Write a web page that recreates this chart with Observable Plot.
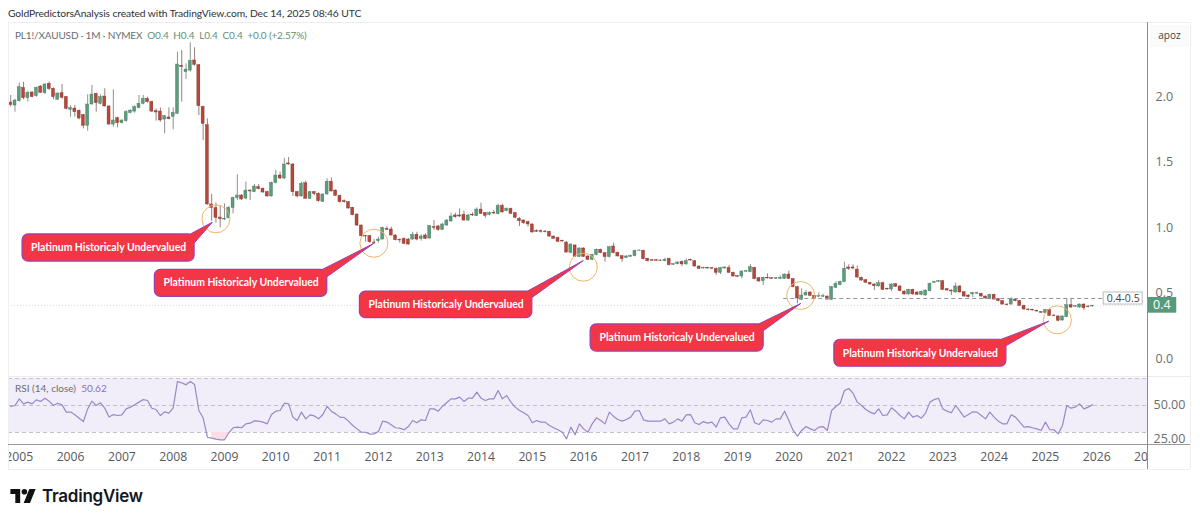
<!DOCTYPE html>
<html><head><meta charset="utf-8">
<script src="https://cdn.jsdelivr.net/npm/d3@7"></script>
<script src="https://cdn.jsdelivr.net/npm/@observablehq/plot@0.6"></script>
<style>
html,body{margin:0;padding:0;background:#fff;width:1200px;height:520px;overflow:hidden;font-family:"Open Sans",sans-serif}
.a{position:absolute;white-space:nowrap}
.hl{position:absolute;height:1px}.vl{position:absolute;width:1px}
svg{display:block;background:transparent}
</style></head><body>
<div id="root"></div>
<script>
// Monthly candles, Nov 2004 to Dec 2025, one row per calendar year
const opens=[1.954,1.931,
1.964,2.066,1.987,2.031,2.003,2.076,2.025,2.097,2.059,1.975,2.025,1.995,
1.898,1.908,1.891,1.858,1.776,1.939,2.020,1.944,2.000,1.924,1.786,1.835,
1.796,1.812,1.873,1.885,1.911,1.944,1.982,1.959,1.888,1.885,1.824,1.840,
1.845,1.868,2.234,2.186,2.198,2.275,2.239,1.921,1.781,1.176,1.148,1.076,
1.061,1.071,1.148,1.224,1.244,1.221,1.282,1.270,1.308,1.295,1.270,1.237,
1.338,1.397,1.374,1.489,1.481,1.270,1.237,1.338,1.219,1.270,1.257,1.196,
1.252,1.349,1.282,1.242,1.201,1.193,1.150,1.099,1.015,0.934,0.934,0.885,
0.896,0.908,0.990,0.985,0.939,0.906,0.913,0.908,0.908,0.944,0.913,0.939,
0.916,1.003,1.008,0.982,1.015,1.046,1.092,1.092,1.097,1.053,1.097,1.087,
1.137,1.109,1.097,1.112,1.102,1.165,1.125,1.142,1.109,1.066,1.053,1.041,
1.023,0.972,0.972,0.969,0.967,0.931,0.921,0.898,0.885,0.807,0.863,0.776,
0.840,0.779,0.753,0.789,0.830,0.804,0.774,0.855,0.807,0.781,0.768,0.776,
0.781,0.822,0.822,0.761,0.750,0.750,0.748,0.743,0.761,0.715,0.720,0.738,
0.718,0.753,0.743,0.702,0.687,0.692,0.689,0.684,0.654,0.687,0.690,0.654,
0.628,0.626,0.662,0.659,0.692,0.613,0.590,0.616,0.613,0.608,0.608,0.608,
0.641,0.606,0.545,0.448,0.481,0.504,0.478,0.471,0.471,0.473,0.448,0.539,
0.560,0.583,0.695,0.695,0.679,0.616,0.598,0.578,0.565,0.550,0.575,0.532,
0.527,0.567,0.550,0.511,0.489,0.524,0.504,0.486,0.481,0.514,0.578,0.585,
0.590,0.529,0.519,0.504,0.550,0.506,0.481,0.489,0.494,0.494,0.473,0.453,
0.486,0.453,0.438,0.412,0.412,0.448,0.438,0.402,0.374,0.371,0.364,0.354,
0.346,0.369,0.328,0.321,0.290,0.316,0.407,0.394,0.389,0.412,0.397,0.397];
const closes=[1.934,1.969,
2.071,1.987,2.028,1.995,2.066,2.028,2.092,2.056,1.995,2.023,1.990,1.906,
1.911,1.880,1.832,1.776,1.939,2.015,1.949,1.995,1.924,1.786,1.817,1.796,
1.817,1.880,1.893,1.919,1.944,1.982,1.957,1.885,1.878,1.817,1.850,1.827,
1.875,2.244,2.224,2.206,2.272,2.242,1.926,1.791,1.176,1.150,1.074,1.064,
1.066,1.150,1.226,1.244,1.214,1.282,1.275,1.313,1.293,1.267,1.237,1.341,
1.397,1.374,1.481,1.481,1.269,1.237,1.333,1.219,1.270,1.257,1.201,1.252,
1.349,1.275,1.242,1.193,1.193,1.145,1.094,1.015,0.934,0.931,0.888,0.880,
0.908,0.997,0.982,0.939,0.903,0.901,0.875,0.870,0.944,0.908,0.931,0.913,
1.010,0.997,0.982,1.023,1.053,1.084,1.079,1.084,1.053,1.092,1.092,1.137,
1.104,1.089,1.109,1.107,1.165,1.115,1.142,1.104,1.074,1.048,1.033,1.023,
0.962,0.967,0.967,0.964,0.931,0.913,0.891,0.893,0.809,0.870,0.776,0.840,
0.776,0.753,0.791,0.830,0.804,0.774,0.850,0.804,0.779,0.758,0.779,0.784,
0.822,0.824,0.758,0.743,0.746,0.746,0.746,0.753,0.712,0.720,0.733,0.718,
0.743,0.748,0.702,0.684,0.692,0.687,0.685,0.654,0.690,0.695,0.654,0.626,
0.624,0.664,0.667,0.697,0.606,0.588,0.616,0.611,0.608,0.613,0.616,0.641,
0.608,0.545,0.458,0.481,0.501,0.478,0.455,0.476,0.476,0.450,0.545,0.570,
0.585,0.684,0.684,0.687,0.618,0.595,0.578,0.565,0.552,0.575,0.524,0.527,
0.565,0.547,0.514,0.489,0.524,0.489,0.486,0.509,0.519,0.570,0.583,0.590,
0.524,0.519,0.512,0.550,0.504,0.473,0.468,0.499,0.499,0.473,0.458,0.486,
0.450,0.438,0.412,0.407,0.455,0.438,0.402,0.374,0.369,0.367,0.359,0.349,
0.369,0.326,0.323,0.288,0.321,0.407,0.389,0.399,0.412,0.384,0.392,0.402];
const highs=[2.008,1.980,
2.102,2.109,2.041,2.036,2.071,2.084,2.097,2.112,2.066,2.028,2.092,2.000,
1.931,1.931,1.898,1.863,2.013,2.084,2.025,2.013,2.059,1.929,2.051,1.842,
1.822,1.893,1.898,1.929,2.008,2.008,1.995,1.964,1.906,1.913,1.855,1.913,
1.913,2.338,2.351,2.249,2.410,2.372,2.244,1.926,1.830,1.252,1.186,1.160,
1.181,1.160,1.232,1.402,1.252,1.346,1.288,1.328,1.328,1.303,1.277,1.346,
1.435,1.422,1.527,1.534,1.487,1.277,1.346,1.354,1.275,1.275,1.265,1.257,
1.372,1.379,1.288,1.247,1.211,1.198,1.155,1.104,1.020,0.939,0.939,0.908,
0.926,1.003,1.008,1.003,0.944,0.913,0.921,0.916,0.964,0.964,0.944,0.952,
1.015,1.053,1.015,1.033,1.061,1.109,1.109,1.142,1.125,1.099,1.112,1.150,
1.186,1.115,1.120,1.130,1.178,1.178,1.150,1.148,1.115,1.076,1.061,1.048,
1.028,0.982,0.982,0.977,0.972,0.936,0.926,0.903,0.893,0.875,0.868,0.845,
0.845,0.784,0.796,0.835,0.835,0.809,0.855,0.880,0.812,0.786,0.784,0.789,
0.827,0.830,0.827,0.766,0.755,0.755,0.753,0.766,0.766,0.725,0.738,0.743,
0.761,0.758,0.748,0.707,0.697,0.697,0.695,0.692,0.695,0.700,0.710,0.659,
0.633,0.669,0.672,0.718,0.697,0.618,0.621,0.646,0.618,0.618,0.631,0.646,
0.667,0.611,0.550,0.532,0.519,0.509,0.483,0.501,0.490,0.478,0.550,0.585,
0.590,0.735,0.715,0.715,0.705,0.621,0.603,0.583,0.570,0.595,0.582,0.537,
0.570,0.573,0.555,0.517,0.529,0.529,0.509,0.514,0.524,0.575,0.590,0.595,
0.595,0.534,0.524,0.575,0.555,0.511,0.486,0.504,0.506,0.499,0.478,0.491,
0.491,0.458,0.443,0.417,0.463,0.453,0.443,0.407,0.379,0.376,0.369,0.359,
0.374,0.374,0.333,0.326,0.326,0.455,0.455,0.404,0.417,0.417,0.402,0.407];
const lows=[1.919,1.880,
1.957,1.975,1.957,1.990,1.995,2.023,2.015,2.046,1.975,1.969,1.980,1.898,
1.842,1.842,1.822,1.753,1.735,1.934,1.880,1.936,1.919,1.781,1.766,1.761,
1.791,1.804,1.868,1.873,1.906,1.936,1.949,1.878,1.812,1.804,1.715,1.822,
1.746,1.863,1.957,2.130,2.186,2.232,1.855,1.664,1.170,1.048,1.033,0.997,
1.053,1.066,1.104,1.206,1.206,1.211,1.206,1.265,1.288,1.262,1.232,1.232,
1.333,1.366,1.366,1.476,1.237,1.226,1.232,1.214,1.214,1.244,1.193,1.191,
1.247,1.270,1.237,1.188,1.186,1.140,1.089,1.008,0.926,0.888,0.880,0.870,
0.880,0.906,0.977,0.934,0.898,0.880,0.870,0.865,0.903,0.898,0.896,0.908,
0.911,0.977,0.972,0.977,1.010,1.041,1.071,1.076,1.048,1.048,1.084,1.084,
1.099,1.071,1.089,1.099,1.097,1.110,1.120,1.099,1.066,1.008,1.023,1.003,
0.957,0.962,0.957,0.959,0.926,0.908,0.885,0.888,0.804,0.801,0.771,0.771,
0.771,0.748,0.748,0.784,0.799,0.735,0.768,0.799,0.774,0.735,0.763,0.771,
0.776,0.819,0.753,0.738,0.741,0.741,0.741,0.738,0.707,0.710,0.715,0.702,
0.712,0.743,0.697,0.679,0.682,0.682,0.680,0.634,0.641,0.682,0.649,0.621,
0.618,0.608,0.657,0.654,0.601,0.583,0.557,0.606,0.603,0.603,0.603,0.603,
0.603,0.539,0.417,0.443,0.476,0.473,0.450,0.466,0.466,0.445,0.443,0.534,
0.555,0.578,0.672,0.677,0.613,0.590,0.573,0.560,0.519,0.545,0.519,0.522,
0.511,0.542,0.509,0.483,0.483,0.483,0.481,0.481,0.476,0.509,0.573,0.580,
0.519,0.514,0.481,0.499,0.499,0.468,0.463,0.465,0.489,0.468,0.453,0.448,
0.445,0.433,0.407,0.402,0.407,0.433,0.397,0.369,0.364,0.362,0.354,0.344,
0.341,0.321,0.318,0.282,0.285,0.311,0.384,0.389,0.384,0.366,0.387,0.392];
const rsiValues=[49.3,50,
54.9,51.2,52.5,51.2,54.2,53,55.4,53.2,50,51.7,50.5,45.1,
45.1,43.1,40.6,38.1,47.5,53.2,50,52,48,41.4,43.3,42.6,
43.1,47.5,48.8,50.5,52.5,54.4,53.7,48,47,42.6,45.3,44.3,
48.3,67.8,66.8,65.3,67.8,65.6,46.3,40.9,26.5,25.8,25.1,24.6,
24.6,29.8,33.5,34,33.5,36.4,36.9,38.6,38.4,37.7,36.4,43.3,
45.8,46.3,51.7,51.2,41.4,38.9,45.1,40.1,43.1,42.3,40.1,43.3,
49.3,45.8,43.8,41.4,41.1,38.4,35.2,32.7,30.2,30.2,28.8,29,
30.7,38.4,37.7,35.7,33.5,33.2,32,34.4,38.9,37.2,39.4,38.9,
47.5,47.5,45.8,49.5,52.2,54.9,54.9,56.2,53,55.4,55.4,59.9,
55.4,53.7,54.9,54.9,61.1,54.9,57.4,52.5,48.8,46.3,44.6,42.6,
37.2,38.9,37.7,37.7,35.2,33.5,32,30.2,25.3,34,28.3,36.4,
32.7,30.2,36.4,40.9,38.9,36.4,45.1,41.9,39.6,38.4,39.6,41.4,
45.8,46.3,39.4,38.4,38.4,38.4,38.4,40.1,36.4,37.7,40.1,38.4,
43.1,43.3,37.2,35.9,38.1,36.9,37.7,34,40.9,41.4,36.4,32.7,
32.7,40.9,41.4,46.8,37.2,35.9,39.4,38.9,37.7,40.1,40.1,45.8,
38.9,31.5,27.3,31.5,34.4,32.7,31.5,34,34.4,31.5,46.3,49.3,
51.7,61.1,62.6,59.1,52.5,50,47,45.1,43.8,47.5,42.6,43.1,
48.3,45.8,42.6,40.1,45.1,41.4,42.6,40.6,44.6,52.5,54.4,55.4,
47.5,45.8,44.6,50,45.8,41.4,43.3,45.3,45.1,42.6,40.1,45.1,
41.4,38.4,36.4,36.4,43.1,41.4,37.7,34,34.4,33.5,32.7,31.5,
37.7,32.2,32,29,35.2,50,48,48.8,51.2,47.5,48.8,50.62];

const yearLabels=d3.range(2005,2028);
const priceTicks=[0,0.5,1,1.5,2];
const rsiTicks=[25,50];
const rsiLevels=[70,50,30];
const calloutText="Platinum Historicaly Undervalued";
// callouts: box [x1,x2,yTop,yBottom] in year/price, tail points, label anchor
const calloutBoxes=[
 {x1:2005.064,x2:2008.417,y1:0.947,y2:0.740},
 {x1:2007.643,x2:2011.004,y1:0.677,y2:0.471},
 {x1:2011.639,x2:2015.000,y1:0.511,y2:0.308},
 {x1:2016.136,x2:2019.509,y1:0.260,y2:0.053},
 {x1:2020.887,x2:2024.240,y1:0.143,y2:-0.063}];
const calloutLabels=[[2006.741,0.847],[2009.324,0.576],[2013.320,0.410],[2017.823,0.156],[2022.563,0.040]];
const calloutTails=[
 [[2008.306,0.944],[2008.762,1.040],[2008.417,0.885]],
 [[2010.893,0.677],[2011.906,0.878],[2011.004,0.626]],
 [[2014.889,0.511],[2015.994,0.748],[2015.000,0.468]],
 [[2019.392,0.260],[2020.230,0.420],[2019.509,0.214]],
 [[2024.115,0.143],[2025.064,0.285],[2024.240,0.099]]];
const circles=[[2008.833,1.066],[2011.912,0.880],[2015.994,0.697],[2020.230,0.481],[2025.234,0.295]];
const levelLine={x1:2019.9,x2:2026.136,y:0.458};
const lastPrice=0.405;

const candles=opens.map((o,i)=>({t:2004+(10+i)/12,o,c:closes[i],h:highs[i],l:lows[i],rsi:rsiValues[i]}));
const up=candles.filter(d=>d.c>=d.o), down=candles.filter(d=>d.c<d.o);
const oversold=candles.filter(d=>d.t>=2008.7&&d.t<=2009.1);
const xDomain=[2004.79,2026.99];
const GREEN="#5a9c7c",RED="#b7473b",WICK="#7f8783",FONT='"Open Sans",sans-serif',AXIS="#6a6d72";
const root=document.getElementById("root");
const common={width:1200,marginLeft:8,marginRight:53,marginTop:0,marginBottom:0,style:{fontFamily:FONT,overflow:"visible"},
  x:{domain:xDomain,axis:null}};

const tails=calloutTails.flatMap((t,id)=>t.map(([x,y])=>({id,x,y})));
const main=Plot.plot({...common,height:355,y:{domain:[-0.145,2.565],axis:null},
 marks:[
  Plot.axisY({ticks:priceTicks,anchor:"right",tickSize:0,tickPadding:8,tickFormat:d3.format(".1f"),fontSize:12.5,color:AXIS,label:null}),
  Plot.ruleY([lastPrice],{stroke:"#dcdfdf",strokeDasharray:"1,2"}),
  Plot.ruleX(up,{x:"t",y1:"l",y2:"h",stroke:WICK,strokeWidth:0.9}),
  Plot.ruleX(down,{x:"t",y1:"l",y2:"h",stroke:"#8a726d",strokeWidth:0.9}),
  Plot.rect(up,{x1:d=>d.t-0.029,x2:d=>d.t+0.029,y1:"o",y2:"c",fill:GREEN,stroke:"#44785e",strokeWidth:0.4}),
  Plot.rect(down,{x1:d=>d.t-0.029,x2:d=>d.t+0.029,y1:"o",y2:"c",fill:RED,stroke:"#7c3229",strokeWidth:0.4}),
  Plot.ruleY([levelLine],{x1:"x1",x2:"x2",y:"y",stroke:"#8f93a3",strokeDasharray:"4,3"}),
  Plot.rect([{x1:2026.136,x2:2026.896,y1:0.504,y2:0.412}],{x1:"x1",x2:"x2",y1:"y1",y2:"y2",fill:"#fff",stroke:"#b8bcc0"}),
  Plot.text(["0.4-0.5"],{x:[2026.516],y:[levelLine.y],text:d=>d,fontSize:10.5,fill:"#3f4246"}),
  Plot.rect([{x1:2026.994,x2:2027.56,y1:0.466,y2:0.346}],{x1:"x1",x2:"x2",y1:"y1",y2:"y2",fill:"#589b7a",clip:false}),
  Plot.text(["0.4"],{x:[2027.27],y:[lastPrice],text:d=>d,fontSize:12.5,fill:"#fff",fontWeight:500}),
  Plot.dot(circles,{x:d=>d[0],y:d=>d[1],r:14,fill:"none",stroke:"#f3b46b",strokeWidth:1}),
  Plot.rect(calloutBoxes,{x1:"x1",x2:"x2",y1:"y1",y2:"y2",r:6,rx:6,fill:"#f23645",stroke:"#9c3fb0",strokeWidth:1.2}),
  Plot.line(tails,{x:"x",y:"y",z:"id",fill:"#f23645",stroke:"#9c3fb0",strokeWidth:1,curve:"linear"}),
  Plot.text(calloutLabels,{x:d=>d[0],y:d=>d[1],text:()=>calloutText,fill:"#fff",fontWeight:700,fontSize:10.4,fontFamily:"Lato"})
 ]});

const rsiPlot=Plot.plot({...common,height:67,y:{domain:[21.11,70.74],axis:null},
 marks:[
  Plot.rect([{x1:xDomain[0],x2:xDomain[1],y1:30,y2:70}],{x1:"x1",x2:"x2",y1:"y1",y2:"y2",fill:"#f2eef9"}),
  Plot.ruleY(rsiLevels,{stroke:"#c3bfcd",strokeDasharray:"4,3"}),
  Plot.areaY(oversold,{x:"t",y1:()=>30,y2:"rsi",fill:"#fbdde6",curve:"linear"}),
  Plot.line(candles,{x:"t",y:"rsi",stroke:"#9a87c9",strokeWidth:1.2,curve:"linear"}),
  Plot.axisY({ticks:rsiTicks,anchor:"right",tickSize:0,tickPadding:6,tickFormat:d3.format(".2f"),fontSize:12.5,color:AXIS,label:null})
 ]});

const timeStrip=Plot.plot({...common,height:25,y:{domain:[0,1],axis:null},
 marks:[Plot.text(yearLabels,{x:d=>d,y:()=>0.5,text:d=>String(d),clip:true,fontSize:12.2,fill:"#55585e",fontWeight:500})]});

function place(el,top){const w=document.createElement("div");w.className="a";w.style.left="0";w.style.top=top+"px";w.appendChild(el);root.appendChild(w);}
place(main,22);place(rsiPlot,377);place(timeStrip,444);

function line(cls,css){const d=document.createElement("div");d.className=cls;d.style.cssText=css;root.appendChild(d);}
line("hl","left:8px;top:22px;width:1182px;background:#eeeeee");
line("hl","left:8px;top:376px;width:1182px;background:#ececec");
line("hl","left:8px;top:469px;width:1182px;background:#eeeeee");
line("vl","left:8px;top:22px;height:447px;background:#eeeeee");
line("vl","left:1190px;top:22px;height:447px;background:#eeeeee");
line("hl","left:8px;top:444px;width:1182px;background:#9a9a9a");
line("vl","left:1147px;top:22px;height:447px;background:#8c8c8c");

function txt(html,css){const d=document.createElement("div");d.className="a";d.style.cssText=css;d.innerHTML=html;root.appendChild(d);}
txt("GoldPredictorsAnalysis created with TradingView.com, Dec 14, 2025 08:46 UTC","left:8px;top:5px;font-family:Lato,sans-serif;font-size:10.3px;letter-spacing:-0.1px;line-height:16px;color:#2f3136");
txt('PL1!/XAUUSD · 1M · NYMEX&nbsp; <span style="color:#5f8f78">O0.4&nbsp; H0.4&nbsp; L0.4&nbsp; C0.4&nbsp; +0.0 (+2.57%)</span>',"left:15px;top:27px;font-family:Lato,sans-serif;font-size:10px;letter-spacing:-0.15px;line-height:16px;color:#6a6d72");
txt('RSI (14, close)&nbsp; <span style="color:#8a70c0">50.62</span>',"left:15px;top:380px;font-family:Lato,sans-serif;font-size:10px;line-height:16px;color:#6a6d72");
txt("apoz","left:1150px;top:25px;width:39px;height:22px;line-height:20px;text-align:center;font-size:10px;color:#444;background:#fafafa");
txt('<svg width="26" height="14" viewBox="0 0 36 20"><path fill="#111" d="M0 0H14V20H7V7H0Z"/><circle cx="20" cy="4" r="4" fill="#111"/><path fill="#111" d="M27 0H36L28 20H19Z"/></svg>',"left:10px;top:489px;");
txt("TradingView","left:42px;top:484px;font-family:Inter,sans-serif;font-weight:600;font-size:17px;line-height:24px;color:#131722;letter-spacing:-0.25px");
</script></body></html>
